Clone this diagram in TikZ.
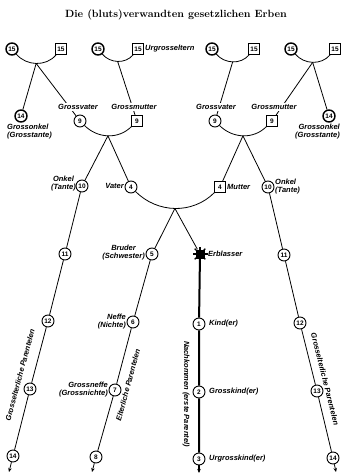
\documentclass[tikz,border=0pt]{standalone}
\usepackage{fontspec}
\newfontfamily\labfont{Liberation Sans}
\usetikzlibrary{arrows.meta,backgrounds}
\tikzset{
  numfont/.style={font=\labfont\bfseries\fontsize{6.5}{6.5}\selectfont},
  pc/.style={circle,draw,fill=white,line width=0.9pt,minimum size=12pt,inner sep=0pt,numfont},
  ps/.style={rectangle,draw,fill=white,line width=0.9pt,minimum size=10.5pt,inner sep=0pt,numfont},
  heavy/.style={line width=1.4pt},
  lbl/.style={font=\labfont\bfseries\itshape\fontsize{7.5}{8}\selectfont,inner sep=1pt},
  lblw/.style={lbl,fill=white},
  link/.style={line width=0.8pt},
  thickline/.style={line width=2pt},
  arr/.style={-{Stealth[length=4pt,width=3.5pt]}},
}
\begin{document}
\begin{tikzpicture}[x=1pt,y=1pt]
\useasboundingbox (0,0) rectangle (341,-476);
% title
\node[font=\bfseries\fontsize{10.5}{12}\selectfont] (title) at (176,-15) {Die (bluts)verwandten gesetzlichen Erben};
% top row (Urgrosseltern)
\node[pc,heavy] (c15a) at (12,-49) {15};
\node[ps,heavy] (s15a) at (61,-49) {15};
\node[pc,heavy] (c15b) at (98,-49) {15};
\node[ps,heavy] (s15b) at (138,-49) {15};
\node[pc,heavy] (c15c) at (212,-49) {15};
\node[ps,heavy] (s15c) at (254,-49) {15};
\node[pc,heavy] (c15d) at (291,-49) {15};
\node[ps,heavy] (s15d) at (335,-49) {15};
\node[lbl,anchor=west] (lU) at (144,-49) {Urgrosseltern};
% grossonkel
\node[pc,heavy] (c14a) at (21,-116) {14};
\node[pc,heavy] (c14b) at (329,-116) {14};
\node[lbl,align=left,anchor=north west] (lGOa) at (6,-123) {Grossonkel\\(Grosstante)};
\node[lbl,align=right,anchor=north east] (lGOb) at (341,-123) {Grossonkel\\(Grosstante)};
% grosseltern
\node[pc] (c9a) at (80,-121) {9};
\node[ps] (s9a) at (137,-121) {9};
\node[pc] (c9b) at (215,-121) {9};
\node[ps] (s9b) at (272,-121) {9};
\node[lblw] (lGVa) at (78,-107) {Grossvater};
\node[lblw] (lGMa) at (134,-107) {Grossmutter};
\node[lblw] (lGVb) at (216,-107) {Grossvater};
\node[lblw] (lGMb) at (274,-107) {Grossmutter};
% eltern, onkel
\node[pc] (c4) at (131,-187) {4};
\node[ps] (s4) at (220,-187) {4};
\node[pc] (c10a) at (82,-186) {10};
\node[pc] (c10b) at (268,-187) {10};
\node[lbl,anchor=east] (lV) at (125,-186) {Vater};
\node[lbl,anchor=west] (lM) at (226,-187) {Mutter};
\node[lbl,align=center,anchor=east] (lOa) at (77,-184) {Onkel\\(Tante)};
\node[lbl,align=left,anchor=west] (lOb) at (274,-187) {Onkel\\(Tante)};
% generation of Erblasser
\node[pc] (c5) at (152,-254) {5};
\node[fill=black,minimum size=9pt,inner sep=0pt] (E) at (200,-254) {};
\foreach \a in {0,45,...,315} \draw[line width=1.3pt] (E.center) -- ++(\a:7.5);
\node[lbl,align=center,anchor=east] (lB) at (146,-253) {Bruder\\(Schwester)};
\node[lbl,anchor=west] (lE) at (207,-254) {Erblasser};
% left chain
\node[pc] (c11a) at (65,-254) {11};
\node[pc] (c12a) at (48,-321) {12};
\node[pc] (c13a) at (30,-389) {13};
\node[pc] (c14c) at (13,-456) {14};
\coordinate (endL) at (9,-472);
\node[lbl,rotate=75] (lPL) at (20,-375) {Grosselterliche Parentelen};
% sibling chain
\node[pc] (c6) at (133,-322) {6};
\node[pc] (c7) at (115,-390) {7};
\node[pc] (c8) at (96,-457) {8};
\coordinate (endB) at (92,-472);
\node[lbl,align=right,anchor=east] (lN) at (127,-322) {Neffe\\(Nichte)};
\node[lbl,align=right,anchor=east] (lGN) at (109,-390) {Grossneffe\\(Grossnichte)};
\node[lbl,rotate=75] (lPE) at (128,-385) {Elterliche Parentelen};
% descendants
\node[pc] (c1) at (199,-324) {1};
\node[pc] (c2) at (199,-392) {2};
\node[pc] (c3) at (199,-459) {3};
\coordinate (endD) at (199,-473);
\node[lbl,anchor=west] (lK1) at (208,-324) {Kind(er)};
\node[lbl,anchor=west] (lK2) at (208,-392) {Grosskind(er)};
\node[lbl,anchor=west] (lK3) at (208,-459) {Urgrosskind(er)};
\node[lbl,rotate=-90] (lPN) at (186,-394) {Nachkommen (erste Parentel)};
% right chain
\node[pc] (c11b) at (284,-255) {11};
\node[pc] (c12b) at (300,-323) {12};
\node[pc] (c13b) at (317,-391) {13};
\node[pc] (c14d) at (333,-458) {14};
\coordinate (endR) at (336,-472);
\node[lbl,rotate=-76] (lPR) at (325,-379) {Grosselterliche Parentelen};
% connectors
\begin{scope}[on background layer]
\draw[link] (c15a) to[out=-50,in=-130] coordinate[pos=0.5] (m1) (s15a);
\draw[link] (c15b) to[out=-50,in=-130] coordinate[pos=0.5] (m2) (s15b);
\draw[link] (c15c) to[out=-50,in=-130] coordinate[pos=0.5] (m3) (s15c);
\draw[link] (c15d) to[out=-50,in=-130] coordinate[pos=0.5] (m4) (s15d);
\draw[link] (m1) -- (c14a);
\draw[link] (m1) -- (c9a);
\draw[link] (m2) -- (s9a);
\draw[link] (m3) -- (c9b);
\draw[link] (m4) -- (s9b);
\draw[link] (m4) -- (c14b);
\draw[link] (c9a) to[out=-45,in=-135] coordinate[pos=0.5] (mL) (s9a);
\draw[link] (c9b) to[out=-45,in=-135] coordinate[pos=0.5] (mR) (s9b);
\draw[link] (mL) -- (c10a);
\draw[link] (mL) -- (c4);
\draw[link] (mR) -- (s4);
\draw[link] (mR) -- (c10b);
\draw[link] (c4) to[out=-45,in=-135] coordinate[pos=0.5] (mVM) (s4);
\draw[link] (mVM) -- (c5);
\draw[link] (mVM) -- (E);
\draw[link] (c10a) -- (c11a) -- (c12a) -- (c13a) -- (c14c);
\draw[link,arr] (c14c) -- (endL);
\draw[link] (c5) -- (c6) -- (c7) -- (c8);
\draw[link,arr] (c8) -- (endB);
\draw[link] (c10b) -- (c11b) -- (c12b) -- (c13b) -- (c14d);
\draw[link,arr] (c14d) -- (endR);
\draw[thickline] (E) -- (c1) -- (c2) -- (c3);
\draw[thickline,arr] (c3) -- (endD);
\end{scope}
\end{tikzpicture}
\end{document}
